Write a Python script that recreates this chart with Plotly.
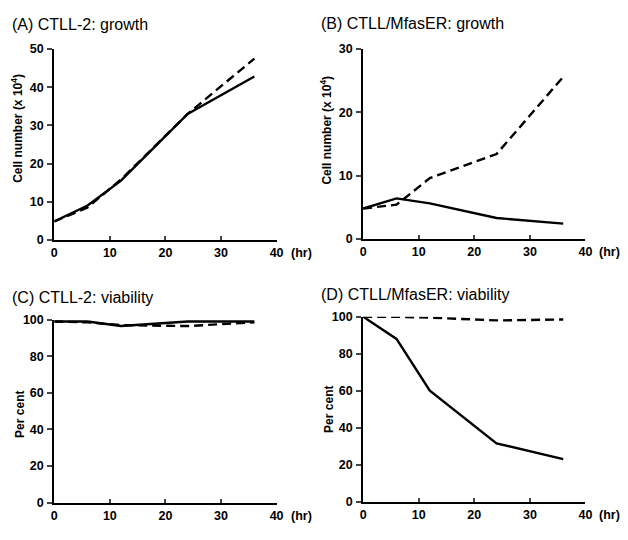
import plotly.graph_objects as go

hours = [0, 6, 12, 24, 36]

# (A) CTLL-2 growth (x 10^4 cells)
a_solid = [4.8, 9.0, 15.5, 33.0, 42.8]
a_dashed = [4.8, 8.5, 15.8, 33.0, 47.5]
# (B) CTLL/MfasER growth
b_solid = [4.8, 6.4, 5.6, 3.3, 2.4]
b_dashed = [4.8, 5.4, 9.6, 13.4, 25.6]
# (C) CTLL-2 viability (%)
c_solid = [99.0, 99.0, 96.5, 99.0, 99.0]
c_dashed = [99.0, 98.5, 97.0, 96.5, 98.5]
# (D) CTLL/MfasER viability (%)
d_solid = [100.0, 88.0, 60.0, 31.5, 23.0]
d_dashed = [100.0, 100.0, 99.5, 98.0, 98.5]

titles = ["(A) CTLL-2: growth", "(B) CTLL/MfasER: growth",
          "(C) CTLL-2: viability", "(D) CTLL/MfasER: viability"]
ytitles = ["Cell number (x 10<sup>4</sup>)", "Cell number (x 10<sup>4</sup>)", "Per cent", "Per cent"]
yranges = [[0, 50], [0, 30], [0, 100], [0, 100]]
ydticks = [10, 10, 20, 20]
xticks = [0, 10, 20, 30, 40]

# page body has an 8px default margin; lay out in screen pixels and offset
OFF = 8
W, H = 628 - 2 * OFF, 540 - 2 * OFF
# screen-pixel boxes: (x0, x1, ytop, ybottom)
boxes = [(52, 278, 43, 239), (366, 592, 43, 238), (52, 278, 321, 509), (366, 592, 318, 508)]
title_pos = [(7, 18), (321, 17), (7, 298), (321, 295)]
ytitle_pos = [(14, 124), (328, 126), (17, 418), (331, 413)]

series = [(a_solid, a_dashed), (b_solid, b_dashed), (c_solid, c_dashed), (d_solid, d_dashed)]

FONT = "Liberation Sans, Arial, Helvetica, sans-serif"
tickfont = dict(family=FONT, size=12.5, color="black", weight="bold")


def px(v):
    return (v - OFF) / W


def py(v):
    return 1 - (v - OFF) / H


fig = go.Figure()
layout = dict(width=W, height=H, margin=dict(l=0, r=0, t=0, b=0),
              paper_bgcolor="white", plot_bgcolor="white", showlegend=False,
              font=dict(family=FONT, color="black"))
annotations = []
for i in range(4):
    n = "" if i == 0 else str(i + 1)
    xa, ya = "x" + n, "y" + n
    solid, dashed = series[i]
    fig.add_trace(go.Scatter(x=hours, y=dashed, mode="lines", xaxis=xa, yaxis=ya,
                             line=dict(color="black", width=2.4, dash="9px,5px")))
    fig.add_trace(go.Scatter(x=hours, y=solid, mode="lines", xaxis=xa, yaxis=ya,
                             line=dict(color="black", width=2.4)))
    x0, x1, yt, yb = boxes[i]
    layout["xaxis" + n] = dict(domain=[px(x0), px(x1)], range=[0, 40], anchor=ya,
                               tickvals=xticks, ticks="inside", ticklen=4, tickwidth=1.5,
                               showline=True, linecolor="black", linewidth=2,
                               showgrid=False, zeroline=False, tickfont=tickfont)
    layout["yaxis" + n] = dict(domain=[py(yb), py(yt)], range=yranges[i], anchor=xa,
                               dtick=ydticks[i], ticks="outside", ticklen=5, tickwidth=1.5,
                               showline=True, linecolor="black", linewidth=2,
                               showgrid=False, zeroline=False, tickfont=tickfont,
                               ticklabelstandoff=1)
    tx, ty = title_pos[i]
    annotations.append(dict(text=titles[i], x=px(tx), y=py(ty), xref="paper", yref="paper",
                            xanchor="left", yanchor="middle", showarrow=False,
                            font=dict(size=16, color="black")))
    yx, yy = ytitle_pos[i]
    annotations.append(dict(text=ytitles[i], x=px(yx), y=py(yy), xref="paper", yref="paper",
                            xanchor="center", yanchor="middle", textangle=-90, showarrow=False,
                            font=dict(size=12, color="black", weight="bold")))
    annotations.append(dict(text="(hr)", x=40, y=0, xref=xa, yref=ya, xanchor="left",
                            yanchor="top", xshift=12, yshift=-4, showarrow=False,
                            font=tickfont))
layout["annotations"] = annotations
fig.update_layout(**layout)
fig.write_html("out.html")
